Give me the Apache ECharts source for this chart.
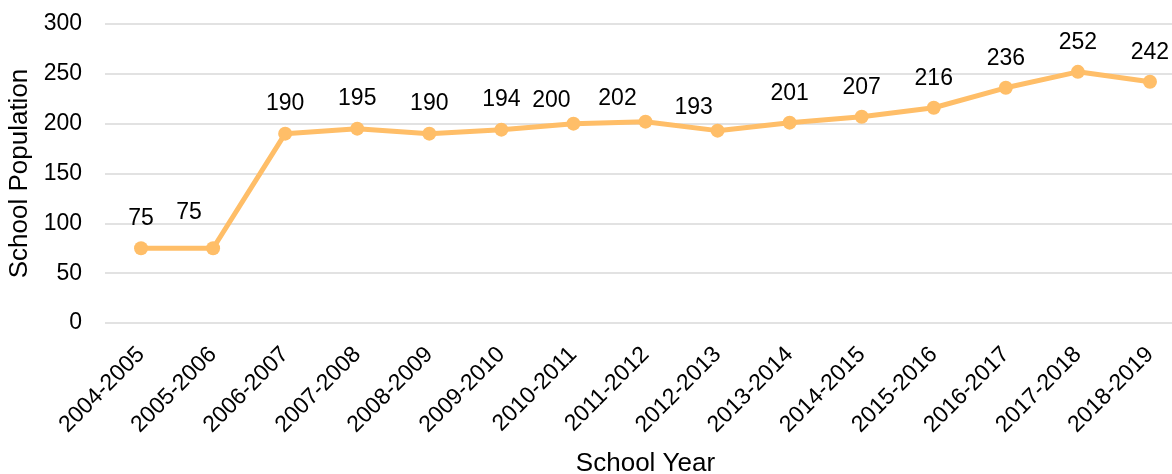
<!DOCTYPE html>
<html>
<head>
<meta charset="utf-8">
<script src="https://cdn.jsdelivr.net/npm/echarts@6/dist/echarts.min.js"></script>
<style>
  html, body { margin: 0; padding: 0; background: #fff; }
  #chart { width: 1172px; height: 474px; }
</style>
</head>
<body>
<div id="chart"></div>
<script>
// School enrolment by year
const schoolYears = [
  '2004-2005', '2005-2006', '2006-2007', '2007-2008', '2008-2009',
  '2009-2010', '2010-2011', '2011-2012', '2012-2013', '2013-2014',
  '2014-2015', '2015-2016', '2016-2017', '2017-2018', '2018-2019'
];
const population = [75, 75, 190, 195, 190, 194, 200, 202, 193, 201, 207, 216, 236, 252, 242];
const yTicks = [0, 50, 100, 150, 200, 250, 300];

// A few value labels sit nudged aside so neighbours don't collide
const labelNudges = { 1: [-24, -6], 6: [-22, 6], 7: [-28, 6], 8: [-24, 7] };

const FONT = '"Liberation Sans", Arial, sans-serif';
const ORANGE = '#FFBE68';

const seriesData = population.map((v, i) => {
  const item = { value: v };
  if (labelNudges[i]) item.label = { offset: labelNudges[i] };
  return item;
});

const chart = echarts.init(document.getElementById('chart'), null, { renderer: 'canvas' });
chart.setOption({
  animation: false,
  backgroundColor: '#ffffff',
  grid: {
    left: 105, top: 24, width: 1081, height: 299,
    containLabel: false,
    outerBoundsMode: 'none'
  },
  xAxis: {
    type: 'category',
    data: schoolYears,
    boundaryGap: true,
    name: 'School Year',
    nameLocation: 'middle',
    nameGap: 128,
    nameTextStyle: { fontFamily: FONT, fontSize: 26, color: '#000' },
    axisLine: { show: false },
    axisTick: { show: false },
    axisLabel: {
      rotate: 45,
      interval: 0,
      margin: 28,
      align: 'right',
      verticalAlign: 'middle',
      fontFamily: FONT,
      fontSize: 23,
      color: '#000'
    }
  },
  yAxis: {
    type: 'value',
    min: yTicks[0],
    max: yTicks[yTicks.length - 1],
    interval: yTicks[1] - yTicks[0],
    name: 'School Population',
    nameLocation: 'middle',
    nameGap: 67,
    nameRotate: 90,
    nameTextStyle: { fontFamily: FONT, fontSize: 26, color: '#000' },
    axisLine: { show: false },
    axisTick: { show: false },
    axisLabel: { margin: 23, fontFamily: FONT, fontSize: 23, color: '#000' },
    splitLine: { lineStyle: { color: '#D9D9D9', width: 1.5 } }
  },
  series: [{
    type: 'line',
    data: seriesData,
    symbol: 'circle',
    symbolSize: 14,
    lineStyle: { color: ORANGE, width: 5 },
    itemStyle: { color: ORANGE },
    label: {
      show: true,
      position: 'top',
      distance: 11,
      fontFamily: FONT,
      fontSize: 23,
      color: '#000'
    }
  }]
});
</script>
</body>
</html>
